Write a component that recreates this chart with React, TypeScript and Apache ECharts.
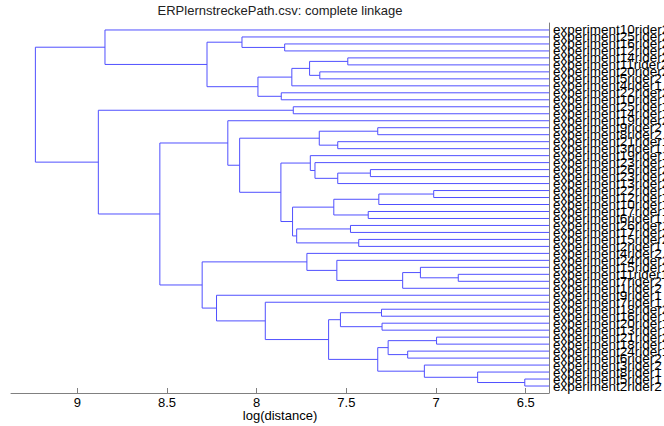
import React, { useEffect, useRef } from "react";
import * as echarts from "echarts";

const titleText = "ERPlernstreckePath.csv: complete linkage";
const xAxisName = "log(distance)";
const xTicks = [6.5, 7, 7.5, 8, 8.5, 9];
const xMin = 6.37;
const xMax = 9.37;

// leaves in display order (top to bottom)
const leafLabels = [
  "experiment10rider2", "experiment25rider2", "experiment16rider2", "experiment12rider2",
  "experiment14rider2", "experiment11rider2", "experiment20rider2", "experiment5rider2",
  "experiment4rider1", "experiment22rider2", "experiment10rider1", "experiment25rider1",
  "experiment14rider1", "experiment19rider2", "experiment9rider2", "experiment8rider2",
  "experiment21rider1", "experiment3rider1", "experiment19rider1", "experiment23rider1",
  "experiment26rider2", "experiment23rider2", "experiment13rider2", "experiment22rider1",
  "experiment12rider1", "experiment10rider1", "experiment17rider1", "experiment6rider1",
  "experiment26rider1", "experiment17rider2", "experiment15rider2", "experiment2rider1",
  "experiment4rider2", "experiment24rider2", "experiment15rider1", "experiment11rider1",
  "experiment7rider2", "experiment1rider2", "experiment9rider1", "experiment7rider1",
  "experiment18rider2", "experiment16rider1", "experiment20rider1", "experiment13rider1",
  "experiment21rider2", "experiment18rider1", "experiment24rider1", "experiment6rider2",
  "experiment3rider2", "experiment8rider1", "experiment5rider1", "experiment2rider2",
];

// linkage: node ids 0..51 are leaves (display order), 52+ are merges in this order
const mergeLeft = [
  50, 49, 35, 44, 23, 48, 34, 46, 58, 55,
  42, 40, 56, 14, 61, 20, 26, 30, 28, 4,
  63, 16, 67, 33, 64, 72, 6, 65, 19, 18,
  71, 32, 70, 11, 76, 82, 2, 9, 81, 39,
  87, 1, 79, 13, 38, 93, 83, 95, 0, 85,
  100,
];
const mergeRight = [
  51, 52, 36, 45, 24, 53, 54, 47, 37, 59,
  43, 41, 25, 15, 57, 21, 27, 31, 29, 5,
  62, 17, 22, 60, 68, 66, 7, 73, 74, 80,
  78, 75, 69, 12, 84, 8, 3, 10, 86, 77,
  89, 88, 90, 94, 91, 92, 96, 98, 97, 99,
  101,
];
const mergeHeight = [
  6.505, 6.768, 6.876, 6.997, 7.013, 7.065, 7.087, 7.158, 7.186, 7.267,
  7.301, 7.304, 7.319, 7.325, 7.325, 7.366, 7.378, 7.431, 7.477, 7.492,
  7.533, 7.548, 7.548, 7.553, 7.570, 7.599, 7.648, 7.651, 7.675, 7.701,
  7.705, 7.720, 7.777, 7.796, 7.800, 7.804, 7.844, 7.863, 7.865, 7.952,
  7.993, 8.082, 8.095, 8.161, 8.224, 8.277, 8.304, 8.540, 8.846, 8.883,
  9.234,
];

function buildSegments() {
  const n = leafLabels.length;
  const pos: number[] = [];
  const hgt: number[] = [];
  for (let i = 0; i < n; i++) {
    pos.push(i + 1);
    hgt.push(xMin);
  }
  const segs: number[][] = [];
  for (let k = 0; k < mergeHeight.length; k++) {
    const l = mergeLeft[k];
    const r = mergeRight[k];
    const h = mergeHeight[k];
    segs.push([hgt[l], pos[l], hgt[r], pos[r], h]);
    pos.push((pos[l] + pos[r]) / 2);
    hgt.push(h);
  }
  return segs;
}

const FONT = "'Liberation Sans', Arial, Helvetica, sans-serif";
const LINE_COLOR = "#5050ff";
const AXIS_COLOR = "#808080";

export default function App() {
  const ref = useRef<HTMLDivElement>(null);
  useEffect(() => {
    if (!ref.current) return;
    const chart = echarts.init(ref.current, null, { renderer: "svg" });
    const segs = buildSegments();
    // padded with empty slots at both ends so min/max handling hides only the blanks
    const labelValues = [0, ...leafLabels.map((_, i) => i + 1), leafLabels.length + 1];
    chart.setOption({
      animation: false,
      backgroundColor: "#ffffff",
      title: {
        text: titleText,
        left: 280,
        textAlign: "center",
        top: 4,
        padding: 0,
        textStyle: { fontFamily: FONT, fontSize: 13, fontWeight: "normal", color: "#222" },
      },
      grid: { left: 11, right: 115, top: 23, bottom: 33, outerBoundsMode: "none", containLabel: false },
      xAxis: {
        type: "value",
        inverse: true,
        min: xMin,
        max: xMax,
        position: "bottom",
        name: xAxisName,
        nameLocation: "middle",
        nameGap: 16,
        nameMoveOverlap: false,
        nameTextStyle: { fontFamily: FONT, fontSize: 13, color: "#000" },
        axisLine: { show: true, onZero: false, lineStyle: { color: AXIS_COLOR, width: 1 } },
        axisTick: { show: true, inside: true, length: 5, customValues: xTicks, lineStyle: { color: AXIS_COLOR } },
        axisLabel: { customValues: xTicks, margin: 3, fontFamily: FONT, fontSize: 13, color: "#000" },
        splitLine: { show: false },
      },
      yAxis: {
        type: "value",
        inverse: true,
        min: 0,
        max: leafLabels.length + 1,
        position: "right",
        axisLine: { show: true, onZero: false, lineStyle: { color: AXIS_COLOR, width: 1 } },
        axisTick: { show: false },
        axisLabel: {
          customValues: labelValues,
          showMinLabel: false,
          showMaxLabel: false,
          hideOverlap: false,
          margin: 4,
          fontFamily: FONT,
          fontSize: 13.5,
          color: "#000",
          formatter: (v: number) => leafLabels[Math.round(v) - 1] ?? "",
        },
        splitLine: { show: false },
      },
      series: [
        {
          type: "custom",
          data: segs,
          encode: { x: [0, 2, 4], y: [1, 3] },
          clip: false,
          renderItem: (params: any, api: any) => {
            const a = api.coord([api.value(0), api.value(1)]);
            const b = api.coord([api.value(4), api.value(1)]);
            const c = api.coord([api.value(4), api.value(3)]);
            const d = api.coord([api.value(2), api.value(3)]);
            return {
              type: "polyline",
              shape: { points: [a, b, c, d] },
              style: { stroke: LINE_COLOR, lineWidth: 1, fill: null },
            };
          },
        },
      ],
    });
    return () => chart.dispose();
  }, []);
  return (
    <div
      ref={ref}
      style={{ position: "absolute", left: 0, top: 0, width: 664, height: 426 }}
    />
  );
}
